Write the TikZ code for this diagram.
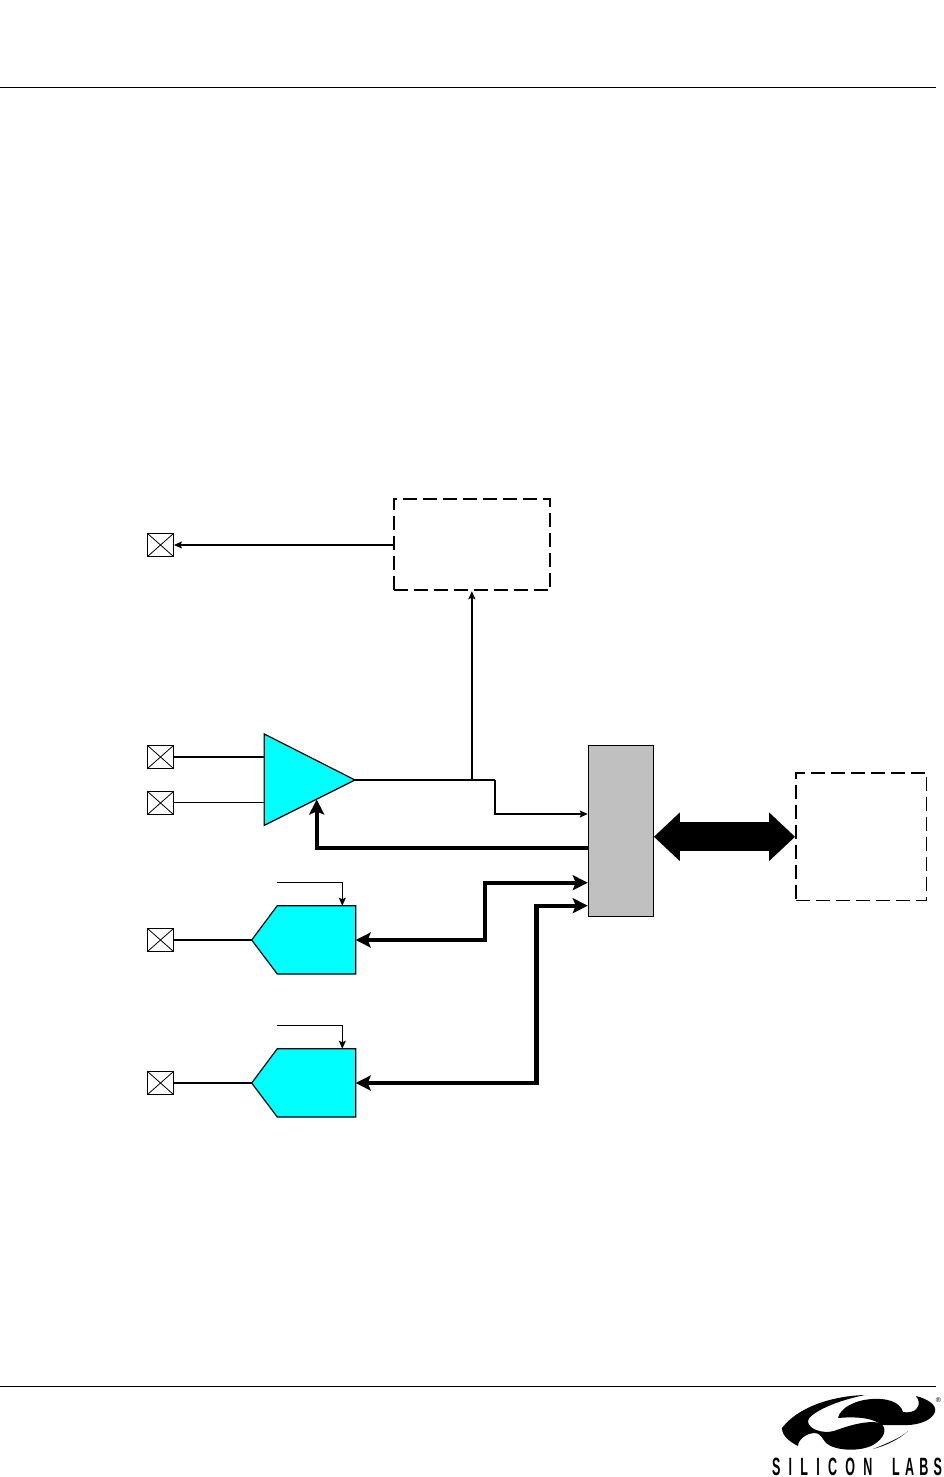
\documentclass[tikz,border=0pt]{standalone}
\usepackage{fontspec}
\usepackage{tikz}
\usetikzlibrary{arrows.meta,calc}
\definecolor{ink}{HTML}{000000}
\definecolor{ampcyan}{HTML}{00FFFF}
\definecolor{muxgrey}{HTML}{C0C0C0}
\newfontfamily\logofonta[LetterSpace=66]{Liberation Sans}
\newfontfamily\logofontb[LetterSpace=42]{Liberation Sans}
\newfontfamily\markfont{Liberation Sans}
\tikzset{
  padbox/.style={
    draw=ink,
    line width=0.9pt,
    inner sep=0pt,
    minimum width=26pt,
    minimum height=23pt,
    path picture={
      \draw[ink,line width=0.8pt] (path picture bounding box.north west) -- (path picture bounding box.south east);
      \draw[ink,line width=0.8pt] (path picture bounding box.south west) -- (path picture bounding box.north east);
    }
  },
  dashblock/.style={
    draw=ink,
    line width=1.8pt,
    dash pattern=on 14pt off 6pt,
    inner sep=0pt
  },
  amppoly/.style={fill=ampcyan,draw=ink,line width=1.2pt,line join=miter},
  sigthin/.style={draw=ink,line width=1.1pt},
  sigmid/.style={draw=ink,line width=1.8pt},
  sigtip/.style={-{Stealth[length=8pt,width=7pt,inset=1.5pt]}},
  bustip/.style={{Stealth[length=15pt,width=15pt,inset=3pt]}-{Stealth[length=15pt,width=15pt,inset=3pt]}},
  busline/.style={draw=ink,line width=4.2pt},
  logoword/.style={inner sep=0pt,anchor=base west,transform shape,xscale=0.5}
}
\begin{document}
\begin{tikzpicture}[x=1pt,y=-1pt]
  \useasboundingbox (0,0) rectangle (943,1477);
  % page rules
  \coordinate (ruletopL) at (0,87.5);
  \coordinate (ruletopR) at (936,87.5);
  \coordinate (rulebotL) at (0,1386.5);
  \coordinate (rulebotR) at (936,1386.5);
  \draw[sigthin] (ruletopL) -- (ruletopR);
  \draw[sigthin] (rulebotL) -- (rulebotR);

  % blocks
  \node[dashblock,minimum width=156.3pt,minimum height=91pt] (outblock) at (471.85,544.8) {};
  \node[dashblock,minimum width=130.5pt,minimum height=127.5pt] (memblock) at (861.25,836.75) {};
  \node[
    fill=muxgrey,
    draw=ink,
    line width=1.1pt,
    inner sep=0pt,
    minimum width=65pt,
    minimum height=171.4pt
  ] (muxblock) at (620.8,831) {};

  % pads
  \node[padbox] (padout) at (160.5,545) {};
  \node[padbox] (padpos) at (160.5,757) {};
  \node[padbox] (padneg) at (160.5,803) {};
  \node[padbox] (padadca) at (160.5,940) {};
  \node[padbox] (padadcb) at (160.5,1083) {};

  % amplifier
  \coordinate (ampin1) at (264.3,757);
  \coordinate (ampin2) at (264.3,802.5);
  \coordinate (ampapex) at (355,780);
  \coordinate (ampgain) at (316.7,799.5);
  \draw[sigmid] (padpos) -- (ampin1);
  \draw[sigthin] (padneg.east |- ampin2) -- (ampin2);
  \draw[amppoly] (264.3,734) -- (ampapex) -- (264.3,825.3) -- cycle;

  % converters
  \foreach \ypos/\adcname in {940/adca,1083/adcb}{
    \coordinate (\adcname tip) at (251.7,\ypos);
    \coordinate (\adcname port) at (355.7,\ypos);
    \coordinate (\adcname clk) at (342.3,\ypos-34.3);
    \coordinate (\adcname src) at (277,\ypos-57.7);
    \draw[sigmid] (pad\adcname) -- (\adcname tip);
    \draw[amppoly] (\adcname tip) -- (277.3,\ypos-34.3) -- (\adcname clk) -- (355.7,\ypos-34.3)
      -- (355.7,\ypos+34) -- (277.3,\ypos+34) -- cycle;
    \draw[sigthin,sigtip] (\adcname src) -| (\adcname clk);
  }

  % signal routes
  \coordinate (tapjoin) at (outblock.south |- ampapex);
  \coordinate (tapbend) at (495,780);
  \coordinate (muxsig) at (muxblock.west |- 0,814);
  \coordinate (muxfb) at (muxblock.west |- 0,848);
  \coordinate (muxadca) at (muxblock.west |- 0,882.7);
  \coordinate (muxadcb) at (muxblock.west |- 0,905.7);
  \draw[sigmid] (ampapex) -- (tapbend);
  \draw[sigmid,sigtip] (tapjoin) -- (outblock.south);
  \draw[sigthin,line width=1.5pt,sigtip] (tapbend) |- (muxsig);
  \draw[sigthin,sigtip] (outblock.west |- padout) -- (padout);
  \draw[busline,-{Stealth[length=15pt,width=15pt,inset=3pt]}] (muxfb) -| (ampgain);
  \draw[busline,bustip] (adcaport) -- (485,940) |- (muxadca);
  \draw[busline,bustip] (adcbport) -- (536.5,1083) |- (muxadcb);

  % wide bus
  \draw[
    draw=ink,
    line width=29pt,
    {Triangle[length=26pt,width=47pt]}-{Triangle[length=26pt,width=47pt]}
  ] (muxblock.east |- memblock.west) -- (memblock.west);

  % logo
  \fill[ink] (865,1395) .. controls (830,1396) and (797,1408) .. (782,1428)
    .. controls (782,1436) and (790,1442) .. (798,1446)
    .. controls (798,1440) and (806,1433) .. (815,1433)
    .. controls (820,1433) and (822,1438) .. (826,1443)
    .. controls (835,1451) and (860,1452) .. (873,1445)
    .. controls (885,1438) and (888,1428) .. (880,1423)
    .. controls (868,1420) and (850,1425) .. (834,1431)
    .. controls (822,1434) and (808,1429) .. (808,1421)
    .. controls (808,1415) and (830,1402) .. (865,1395) -- cycle;
  \fill[ink] (838,1418) .. controls (840,1408) and (855,1400) .. (872,1399)
    .. controls (885,1398) and (900,1401) .. (903,1412)
    .. controls (908,1413) and (915,1412) .. (917,1408)
    .. controls (920,1404) and (919,1400) .. (916,1396)
    .. controls (928,1399) and (937,1405) .. (935,1412)
    .. controls (931,1422) and (915,1426) .. (900,1425)
    .. controls (890,1425) and (885,1425) .. (881,1425)
    .. controls (875,1419) and (860,1416) .. (838,1418) -- cycle;
  \fill[ink] (873,1449) .. controls (885,1446) and (900,1439) .. (908,1431)
    .. controls (902,1437) and (888,1443) .. (873,1449) -- cycle;
  \node[inner sep=0pt,anchor=center,font=\markfont\fontsize{7}{7}\selectfont] (logomark) at (938.5,1400) {\textregistered};
  \node[logoword,font=\logofonta\bfseries\fontsize{25}{25}\selectfont] (logoname) at (772,1475.5) {SILICON};
  \node[logoword,font=\logofontb\bfseries\fontsize{25}{25}\selectfont] (logolabs) at (892,1475.5) {LABS};
\end{tikzpicture}
\end{document}
